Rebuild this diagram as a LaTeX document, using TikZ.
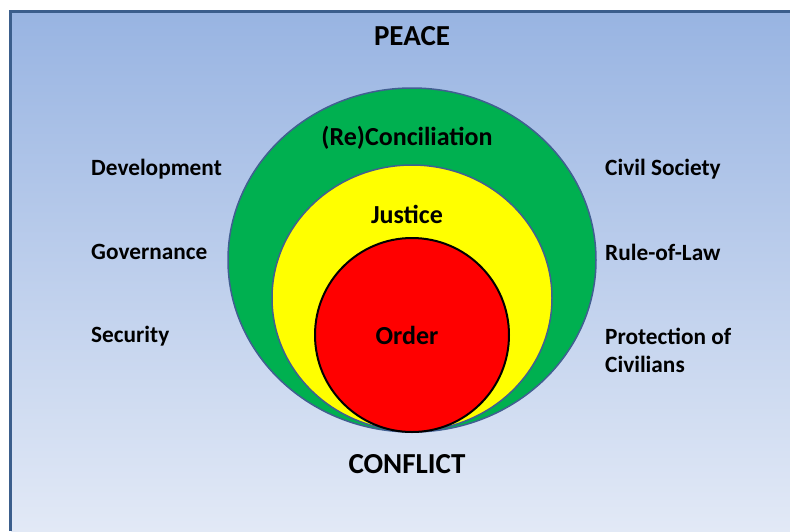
\documentclass[tikz,border=0pt]{standalone}
\usepackage{fontspec}
\setmainfont{Carlito}
\definecolor{framec}{RGB}{59,94,140}
\definecolor{bgtop}{RGB}{152,180,226}
\definecolor{bgbot}{RGB}{226,233,246}
\definecolor{ringline}{RGB}{65,95,145}
\definecolor{greenc}{RGB}{0,176,80}
\definecolor{yellowc}{RGB}{255,255,0}
\definecolor{redc}{RGB}{255,0,0}
\begin{document}
\begin{tikzpicture}[x=1pt,y=-1pt,
  lbl/.style={font=\fontsize{23.3}{28}\selectfont\bfseries, text=black, inner sep=0pt},
  big/.style={font=\fontsize{29}{32}\selectfont\bfseries, text=black, inner sep=0pt},
  ringtxt/.style={font=\fontsize{26}{30}\selectfont\bfseries, text=black, inner sep=0pt},
  ring/.style={draw=ringline, line width=1.5pt}]
\useasboundingbox (0,0) rectangle (790,531);
\fill[white] (0,0) rectangle (790,531);
\shade[top color=bgtop, bottom color=bgbot] (11,11) rectangle (790,531);
\draw[framec, line width=3pt] (10.5,531) -- (10.5,11) -- (790,11);
% rings
\filldraw[ring, fill=greenc] (412,260) ellipse [x radius=184, y radius=172];
\filldraw[ring, fill=yellowc] (412,298) ellipse [x radius=140, y radius=133];
\filldraw[draw=black, line width=2pt, fill=redc] (412,335) circle [radius=97];
% texts
\node[big] (peace) at (412,36) {PEACE};
\node[big] (conflict) at (407,464) {CONFLICT};
\node[ringtxt] (recon) at (407,138) {(Re)Conciliation};
\node[ringtxt] (justice) at (407,214) {Justice};
\node[ringtxt] (order) at (407,335) {Order};
\node[lbl, anchor=west] (dev) at (91,169) {Development};
\node[lbl, anchor=west] (gov) at (91,252) {Governance};
\node[lbl, anchor=west] (sec) at (91,336) {Security};
\node[lbl, anchor=west] (civ) at (605,169) {Civil Society};
\node[lbl, anchor=west] (rol) at (605,252) {Rule-of-Law};
\node[lbl, anchor=west, align=left] (prot) at (605,350) {Protection of\\Civilians};
\end{tikzpicture}
\end{document}
